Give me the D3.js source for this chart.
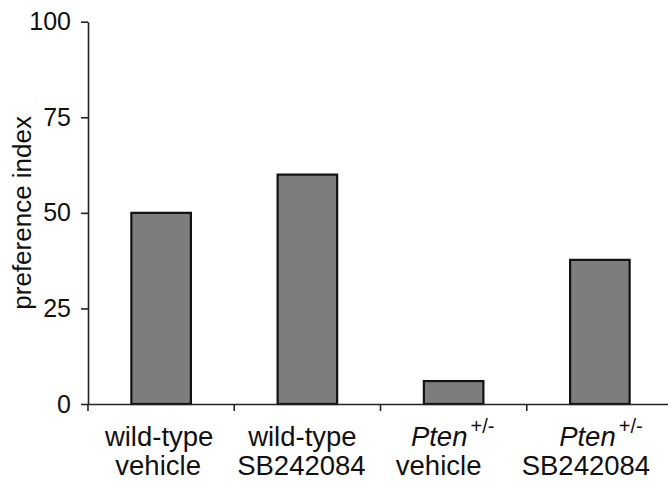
<!DOCTYPE html>
<html>
<head>
<meta charset="utf-8">
<script src="https://cdn.jsdelivr.net/npm/d3@7"></script>
<style>
  html, body { margin: 0; padding: 0; background: #fff; }
  svg { display: block; font-family: "Liberation Sans", Arial, Helvetica, sans-serif; }
</style>
</head>
<body>
<svg id="chart" width="668" height="481"></svg>
<script>
// Data
const categories = ["wt-vehicle", "wt-SB242084", "pten-vehicle", "pten-SB242084"];
const labelLine1 = ["wild-type", "wild-type", "Pten", "Pten"];
const labelSup   = ["", "", "+/-", "+/-"];
const labelLine2 = ["vehicle", "SB242084", "vehicle", "SB242084"];
const values = [50, 60, 6, 37.7];
const yTicks = [0, 25, 50, 75, 100];
const yLabel = "preference index";

// Layout (label nudges as in the original figure)
const line1Shift = [-2, -5, -1, 1];
const line2Shift = [-3, -6, -15, -14];

const svg = d3.select("#chart");
const x0 = 88, x1 = 673, yTop = 21.7, yBottom = 404;

const x = d3.scaleBand().domain(categories).range([x0, x1]).paddingInner(0).paddingOuter(0);
const y = d3.scaleLinear().domain([0, 100]).range([yBottom, yTop]);
const barW = x.bandwidth() * 0.407;

// Bars
svg.append("g").selectAll("rect").data(values).join("rect")
  .attr("x", (d, i) => x(categories[i]) + x.bandwidth() / 2 - barW / 2)
  .attr("y", d => y(d))
  .attr("width", barW)
  .attr("height", d => y(0) - y(d))
  .attr("fill", "#7f7c7e")
  .attr("stroke", "#111")
  .attr("stroke-width", 2.2);

// Y axis
const yAxis = svg.append("g")
  .attr("transform", `translate(${x0},0)`)
  .call(d3.axisLeft(y).tickValues(yTicks).tickSize(7).tickSizeOuter(0).tickPadding(10));
yAxis.select(".domain").attr("stroke", "#222").attr("stroke-width", 1.6);
yAxis.selectAll(".tick line").attr("stroke", "#222").attr("stroke-width", 1.6);
yAxis.selectAll(".tick text").attr("font-size", 25).attr("fill", "#111")
  .attr("font-family", "'Liberation Sans', Arial, sans-serif");

// X axis (baseline)
const xAxis = svg.append("g")
  .attr("transform", `translate(0,${yBottom})`)
  .call(d3.axisBottom(x).tickSize(0).tickSizeOuter(0).tickFormat(""));
xAxis.select(".domain").attr("stroke", "#222").attr("stroke-width", 1.6);
xAxis.selectAll(".tick").remove();

// Boundary ticks between categories
svg.append("g").selectAll("line").data(categories).join("line")
  .attr("x1", d => x(d)).attr("x2", d => x(d))
  .attr("y1", yBottom).attr("y2", yBottom + 7)
  .attr("stroke", "#222").attr("stroke-width", 1.6);

// Category labels
const lab = svg.append("g").selectAll("g").data(categories).join("g")
  .attr("transform", d => `translate(${x(d) + x.bandwidth() / 2},0)`);

lab.append("text")
  .attr("x", (d, i) => line1Shift[i])
  .attr("y", 446)
  .attr("text-anchor", "middle")
  .attr("font-size", 27.5)
  .attr("fill", "#111")
  .each(function(d, i) {
    const t = d3.select(this);
    const main = t.append("tspan").text(labelLine1[i]);
    if (labelSup[i]) {
      main.attr("font-style", "italic");
      t.append("tspan").text(labelSup[i]).attr("dy", -13).attr("font-size", 20).attr("dx", 3);
    }
  });

lab.append("text")
  .attr("x", (d, i) => line2Shift[i])
  .attr("y", 474.5)
  .attr("text-anchor", "middle")
  .attr("font-size", 27.5)
  .attr("fill", "#111")
  .text((d, i) => labelLine2[i]);

// Y label
svg.append("text")
  .attr("transform", `translate(31,${(yTop + yBottom) / 2}) rotate(-90)`)
  .attr("text-anchor", "middle")
  .attr("font-size", 26)
  .attr("fill", "#111")
  .text(yLabel);
</script>
</body>
</html>
